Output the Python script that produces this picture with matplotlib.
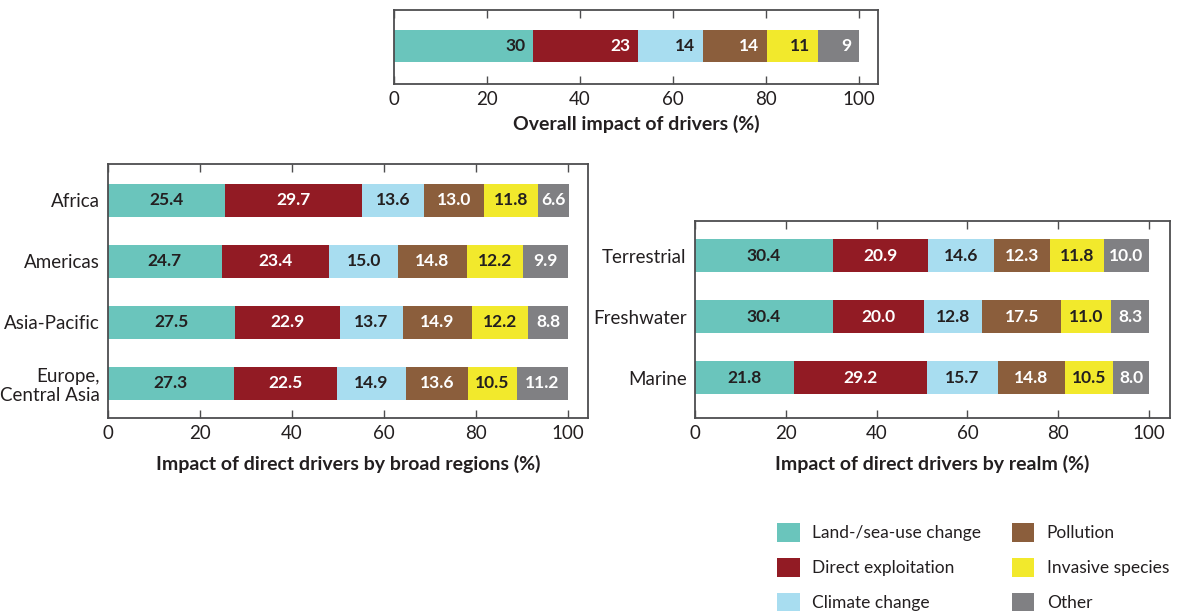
import matplotlib.pyplot as plt
from matplotlib.patches import Patch

plt.rcParams['font.family'] = ['Lato', 'DejaVu Sans']

# Driver names and colours
drivers = ['Land-/sea-use change', 'Direct exploitation', 'Climate change',
           'Pollution', 'Invasive species', 'Other']
colors = ['#6ac5bc', '#921b24', '#a8ddf0', '#8b5e3c', '#f2e92c', '#808083']
text_colors = ['#231f20', 'white', '#231f20', 'white', '#231f20', 'white']

# Overall impact (%) - labels are shown rounded
overall = [29.9, 22.6, 14.0, 13.7, 11.0, 8.8]

# Broad regions (%)
regions = ['Africa', 'Americas', 'Asia-Pacific', 'Europe,\nCentral Asia']
region_vals = [
    [25.4, 29.7, 13.6, 13.0, 11.8, 6.6],
    [24.7, 23.4, 15.0, 14.8, 12.2, 9.9],
    [27.5, 22.9, 13.7, 14.9, 12.2, 8.8],
    [27.3, 22.5, 14.9, 13.6, 10.5, 11.2],
]

# Realms (%)
realms = ['Terrestrial', 'Freshwater', 'Marine']
realm_vals = [
    [30.4, 20.9, 14.6, 12.3, 11.8, 10.0],
    [30.4, 20.0, 12.8, 17.5, 11.0, 8.3],
    [21.8, 29.2, 15.7, 14.8, 10.5, 8.0],
]

W, H = 1184, 611
fig = plt.figure(figsize=(W / 100, H / 100), dpi=100)

val_font = dict(fontweight='bold', fontsize=12.5)
spine_col = '#4d4d4f'


def make_ax(l, t, r, b):
    return fig.add_axes([l / W, 1 - b / H, (r - l) / W, (b - t) / H])


def style(ax, xmax):
    ax.set_xlim(0, xmax)
    ax.set_xticks([0, 20, 40, 60, 80, 100])
    ax.tick_params(axis='x', direction='in', top=True, length=6, width=1,
                   color=spine_col, labelsize=13.5, pad=5, labelcolor='#231f20')
    ax.tick_params(axis='y', length=0, labelsize=13.5, pad=6, labelcolor='#231f20')
    for s in ax.spines.values():
        s.set_color(spine_col)
        s.set_linewidth(1.3)


def stacked(ax, cats, vals):
    for i, row in enumerate(vals):
        left = 0
        for j, v in enumerate(row):
            ax.barh(i, v, left=left, height=0.54, color=colors[j])
            ax.text(left + v / 2, i, f'{v:.1f}', ha='center', va='center',
                    color=text_colors[j], **val_font)
            left += v
    ax.set_yticks(range(len(cats)))
    ax.set_yticklabels(cats, ha='right')


# Top: overall
ax0 = make_ax(394, 10, 878, 84)
left = 0
for j, v in enumerate(overall):
    ax0.barh(0, v, left=left, height=0.5, color=colors[j])
    ax0.text(left + v - 1.7, 0, f'{round(v)}', ha='right', va='center',
             color=text_colors[j], **val_font)
    left += v
ax0.set_yticks([])
ax0.set_ylim(-0.59, 0.56)
style(ax0, 104.1)
ax0.set_xlabel('Overall impact of drivers (%)', fontsize=14, fontweight='bold',
               labelpad=5, color='#231f20')

# Bottom-left: broad regions
ax1 = make_ax(108, 164, 588, 418)
stacked(ax1, regions, region_vals)
ax1.set_ylim(3.57, -0.59)
style(ax1, 104.3)
ax1.set_xlabel('Impact of direct drivers by broad regions (%)', fontsize=14,
               fontweight='bold', labelpad=9, color='#231f20')

# Bottom-right: realms
ax2 = make_ax(695, 221, 1170, 418)
stacked(ax2, realms, realm_vals)
ax2.set_ylim(2.66, -0.565)
style(ax2, 104.6)
ax2.set_xlabel('Impact of direct drivers by realm (%)', fontsize=14,
               fontweight='bold', labelpad=9, color='#231f20')

# Legend
handles = [Patch(facecolor=c, edgecolor='none') for c in colors]
fig.legend(handles, drivers, loc='upper left', bbox_to_anchor=(770 / W, 1 - 516 / H),
           ncol=2, frameon=False, fontsize=12.5, handlelength=1.3, handleheight=1.3,
           handletextpad=0.7, labelspacing=0.93, columnspacing=1.8, labelcolor='#231f20',
           borderaxespad=0)

fig.savefig('out.png', dpi=100)
